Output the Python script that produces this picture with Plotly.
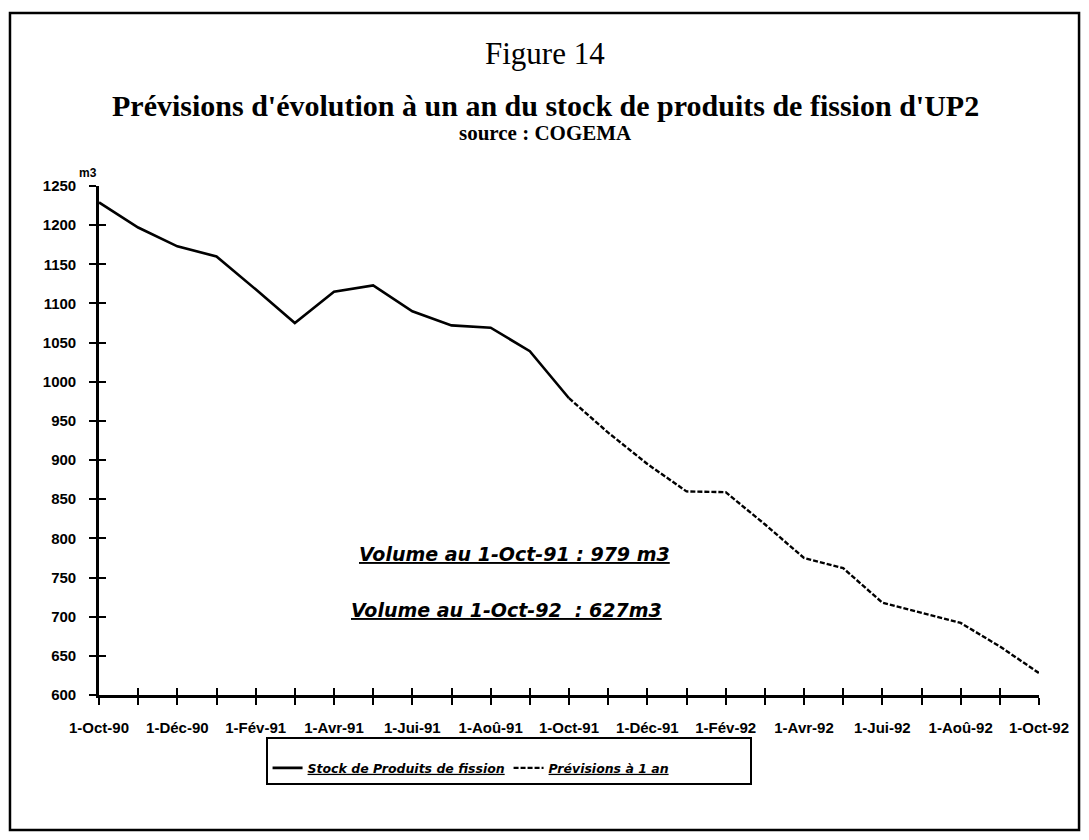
import plotly.graph_objects as go

# ---- data ----
months = ["1-Oct-90", "1-Nov-90", "1-Déc-90", "1-Jan-91", "1-Fév-91", "1-Mar-91",
          "1-Avr-91", "1-Mai-91", "1-Jui-91", "1-Jul-91", "1-Aoû-91", "1-Sep-91",
          "1-Oct-91", "1-Nov-91", "1-Déc-91", "1-Jan-92", "1-Fév-92", "1-Mar-92",
          "1-Avr-92", "1-Mai-92", "1-Jui-92", "1-Jul-92", "1-Aoû-92", "1-Sep-92",
          "1-Oct-92"]
stock = [1229, 1197, 1173, 1160, 1118, 1075, 1115, 1123, 1090, 1072, 1069, 1039, 979]
prevision = [979, 935, 895, 860, 859, 818, 775, 762, 718, 705, 692, 662, 628]
tick_labels = ["1-Oct-90", "", "1-Déc-90", "", "1-Fév-91", "", "1-Avr-91", "", "1-Jui-91", "",
               "1-Aoû-91", "", "1-Oct-91", "", "1-Déc-91", "", "1-Fév-92", "", "1-Avr-92", "",
               "1-Jui-92", "", "1-Aoû-92", "", "1-Oct-92"]
y_ticks = list(range(600, 1251, 50))

x_all = list(range(len(months)))
x_stock = x_all[:len(stock)]
x_prev = x_all[len(stock) - 1:]

SANS = "Liberation Sans, Arial, sans-serif"
WIDE = "DejaVu Sans, Verdana, sans-serif"
SERIF = "Liberation Serif, Times New Roman, serif"

fig = go.Figure()
fig.add_trace(go.Scatter(
    x=x_stock, y=stock, mode="lines",
    name="<u><b><i>Stock de Produits de fission</i></b></u>",
    line=dict(color="black", width=2.6),
    customdata=months[:len(stock)],
    xaxis="x", yaxis="y"))
fig.add_trace(go.Scatter(
    x=x_prev, y=prevision, mode="lines",
    name="<u><b><i>Prévisions à 1 an</i></b></u>",
    line=dict(color="black", width=2.4, dash="5px,2px"),
    customdata=months[len(stock) - 1:],
    xaxis="x2", yaxis="y2"))

xr = [0, len(months) - 1]
yr = [600, 1250]

fig.update_layout(
    width=1073, height=824,
    margin=dict(l=91, r=42, t=178, b=137, autoexpand=False),
    paper_bgcolor="white", plot_bgcolor="white",
    showlegend=True,
    legend=dict(orientation="h", x=0.4357, xanchor="center", y=-0.0825, yanchor="top",
                bordercolor="black", borderwidth=2, bgcolor="white",
                font=dict(family=WIDE, size=12.5, color="black"),
                title=dict(text=" ", side="top", font=dict(size=11)),
                itemwidth=30, entrywidth=196, tracegroupgap=0),
    xaxis=dict(range=xr, tickmode="array", tickvals=x_all, ticktext=tick_labels,
               ticks="outside", ticklen=7, tickwidth=2, tickcolor="black",
               showline=True, linecolor="black", linewidth=2.6, showgrid=False,
               zeroline=False, ticklabelstandoff=10,
               tickfont=dict(family=SANS, size=15, color="black", weight="bold")),
    yaxis=dict(range=yr, tickmode="array", tickvals=y_ticks,
               ticks="outside", ticklen=7, tickwidth=2, tickcolor="black",
               showline=True, linecolor="black", linewidth=2.6, showgrid=False,
               zeroline=False, ticklabelstandoff=10,
               tickfont=dict(family=SANS, size=15, color="black", weight="bold")),
    xaxis2=dict(range=xr, overlaying="x", anchor="y", side="bottom",
                tickmode="array", tickvals=x_all, showticklabels=False,
                ticks="inside", ticklen=7, tickwidth=2, tickcolor="black",
                showline=False, showgrid=False, zeroline=False),
    yaxis2=dict(range=yr, overlaying="y", anchor="x", side="left",
                tickmode="array", tickvals=y_ticks, showticklabels=False,
                ticks="inside", ticklen=7, tickwidth=2, tickcolor="black",
                showline=False, showgrid=False, zeroline=False),
)

# outer frame
fig.add_shape(type="rect", xref="paper", yref="paper",
              x0=-0.0947, x1=1.0426, y0=-0.265, y1=1.340,
              line=dict(color="black", width=2.5), fillcolor="rgba(0,0,0,0)", layer="below")

anns = [
    dict(text="Figure 14", x=0.4745, y=1.261, font=dict(family=SERIF, size=31, color="black")),
    dict(text="<b>Prévisions d'évolution à un an du stock de produits de fission d'UP2</b>",
         x=0.4745, y=1.159, font=dict(family=SERIF, size=30, color="black")),
    dict(text="<b>source : COGEMA</b>", x=0.4745, y=1.104,
         font=dict(family=SERIF, size=21, color="black")),
]
for a in anns:
    fig.add_annotation(xref="paper", yref="paper", showarrow=False,
                       xanchor="center", yanchor="middle", **a)

fig.add_annotation(text="<b>m3</b>", xref="paper", yref="paper", x=0.0, y=1.026,
                   xanchor="right", yanchor="middle", showarrow=False,
                   font=dict(family=SANS, size=12, color="black"))

fig.add_annotation(text="<u><b><i>Volume au 1-Oct-91 : 979 m3</i></b></u>",
                   xref="x", yref="y", x=10.6, y=780, showarrow=False,
                   xanchor="center", yanchor="middle",
                   font=dict(family=WIDE, size=19, color="black"))
fig.add_annotation(text="<u><b><i>Volume au 1-Oct-92  : 627m3</i></b></u>",
                   xref="x", yref="y", x=10.4, y=709, showarrow=False,
                   xanchor="center", yanchor="middle",
                   font=dict(family=WIDE, size=19, color="black"))

fig.write_html("out.html")
